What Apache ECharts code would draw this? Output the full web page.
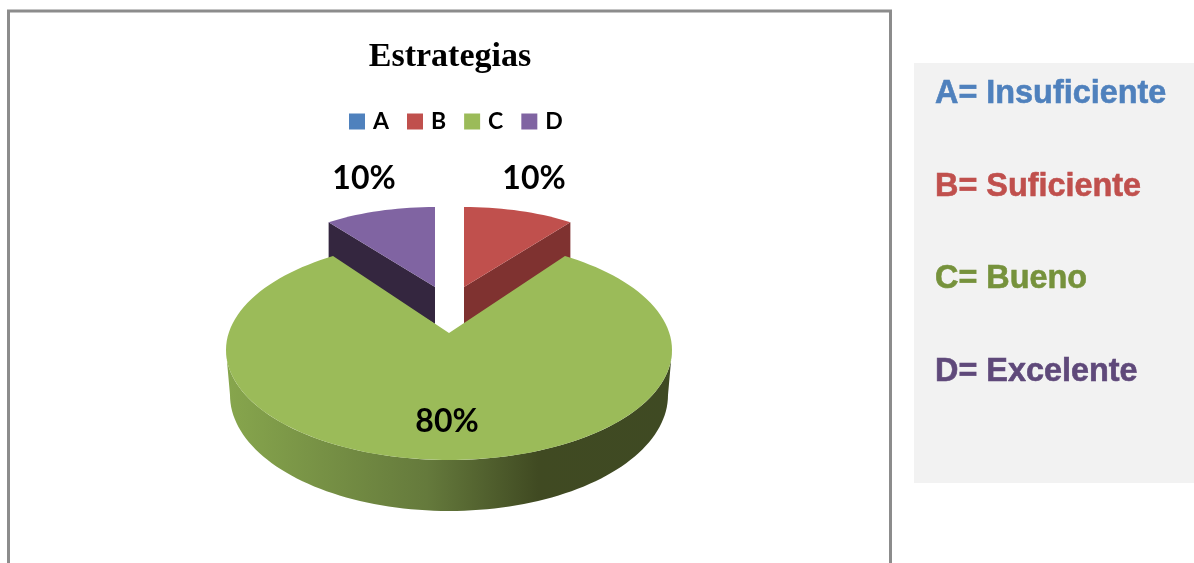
<!DOCTYPE html>
<html>
<head>
<meta charset="utf-8">
<style>html,body{margin:0;padding:0;background:#fff}#c{width:1194px;height:563px}</style>
<script src="https://cdn.jsdelivr.net/npm/echarts@6/dist/echarts.min.js"></script>
</head>
<body>
<div id="c"></div>
<script>
const categories = ['A', 'B', 'C', 'D'];
const values = [0, 10, 80, 10];
const colors = ['#4f81bd', '#c0504d', '#9bbb59', '#8064a2'];
const keyLabels = ['A= Insuficiente', 'B= Suficiente', 'C= Bueno', 'D= Excelente'];
const keyColors = ['#4f81bd', '#c0504d', '#76923c', '#5f497a'];
const chartTitle = 'Estrategias';

const total = values.reduce((a, b) => a + b, 0);
const FONT = 'Lato, "Open Sans", sans-serif';

// Drawing geometry of each exploded 3D slice (screen placement only).
const geom = {
  B: {cx: 464, cy: 287, rx: 181, ry: 80, warp: 0, depth: 37, side: '#7f3230', label: [534, 179]},
  C: {cx: 449, cy: 350, rx: 223, ry: 110, warp: 4.9, apex: [449, 333], label: [447, 422],
      bottom: {cy: 395, rx: 219, ry: 116}},
  D: {cx: 435, cy: 287, rx: 181, ry: 80, warp: 0, depth: 37, side: '#34263f', label: [364, 179]}
};

function sliceAngles(i) {
  let s = 0;
  for (let k = 0; k < i; k++) s += values[k];
  return [s / total * 360, (s + values[i]) / total * 360];
}
function ept(cx, cy, rx, ry, deg) {
  const t = deg * Math.PI / 180;
  return [cx + rx * Math.sin(t), cy - ry * Math.cos(t)];
}
function arc(g, a0, a1) {
  const n = Math.max(2, Math.ceil(Math.abs(a1 - a0) / 2));
  const pts = [];
  for (let i = 0; i <= n; i++) {
    const a = a0 + (a1 - a0) * i / n;
    const w = a - g.warp * Math.sin(2 * a * Math.PI / 180);
    pts.push(ept(g.cx, g.cy, g.rx, g.ry, w));
  }
  return pts;
}

function makeRender(i) {
  return function (params, api) {
    const v = api.value(0);
    const g = geom[categories[i]];
    if (!v || !g) return {type: 'group', children: []};
    const [a0, a1] = sliceAngles(i);
    const children = [];
    const poly = (points, fill) => ({type: 'polygon', shape: {points}, style: {fill, stroke: null}});
    const top = arc(g, a0, a1);
    if (g.bottom) {
      const f = [];
      const b = [];
      for (let d = 90; d <= 270; d += 2) {
        f.push(ept(g.cx, g.cy, g.rx, g.ry, d));
        b.unshift(ept(g.cx, g.bottom.cy, g.bottom.rx, g.bottom.ry, d));
      }
      children.push({
        type: 'polygon',
        shape: {points: f.concat(b)},
        style: {fill: new echarts.graphic.LinearGradient(1, 0, 0, 0, [
          {offset: 0, color: '#3f4a23'},
          {offset: 0.3, color: '#404a22'},
          {offset: 0.55, color: '#657a3c'},
          {offset: 1, color: '#87a64d'}
        ])}
      });
      children.push(poly([g.apex].concat(top), colors[i]));
    } else {
      const c = [g.cx, g.cy];
      // the straight cut wall facing the viewer
      const outer = i === 1 ? top[top.length - 1] : top[0];
      children.push(poly([c, outer, [outer[0], outer[1] + g.depth], [c[0], c[1] + g.depth]], g.side));
      children.push(poly([c].concat(top), colors[i]));
    }
    children.push({
      type: 'text',
      style: {
        text: Math.round(v / total * 100) + '%',
        x: g.label[0], y: g.label[1],
        align: 'center', verticalAlign: 'middle',
        font: 'bold 32px ' + FONT, fill: '#000'
      },
      z2: 10
    });
    return {type: 'group', children};
  };
}

const chart = echarts.init(document.getElementById('c'), null, {renderer: 'canvas'});
chart.setOption({
  animation: false,
  backgroundColor: '#fff',
  title: {
    text: chartTitle, left: 445, top: 35, textAlign: 'center',
    textStyle: {fontFamily: '"Liberation Serif", serif', fontWeight: 'bold', fontSize: 34, color: '#000'}
  },
  legend: {
    data: categories, left: 349, top: 110, padding: 0, icon: 'rect',
    itemWidth: 16, itemHeight: 16, itemGap: 18, selectedMode: false,
    textStyle: {fontFamily: FONT, fontWeight: 'bold', fontSize: 23, color: '#000', padding: [0, 0, 0, 3]}
  },
  graphic: [
    {type: 'rect', shape: {x: 8.5, y: 11, width: 882, height: 570},
     style: {fill: 'none', stroke: '#8c8c8c', lineWidth: 3}, z: -2},
    {type: 'rect', shape: {x: 914, y: 63, width: 280, height: 420}, style: {fill: '#f2f2f2'}, z: -2}
  ].concat(keyLabels.map((t, i) => ({
    type: 'text', x: 935, y: [94, 187, 279, 372][i],
    style: {text: t, font: 'bold 32.4px "Liberation Sans", Arial, sans-serif', fill: keyColors[i],
            verticalAlign: 'middle', stroke: keyColors[i], lineWidth: 0.6}
  }))),
  series: categories.map((name, i) => ({
    type: 'custom',
    name,
    coordinateSystem: 'none',
    z: name === 'C' ? 3 : 2,
    itemStyle: {color: colors[i]},
    renderItem: makeRender(i),
    data: [[values[i]]],
    silent: true
  }))
});
</script>
</body>
</html>
